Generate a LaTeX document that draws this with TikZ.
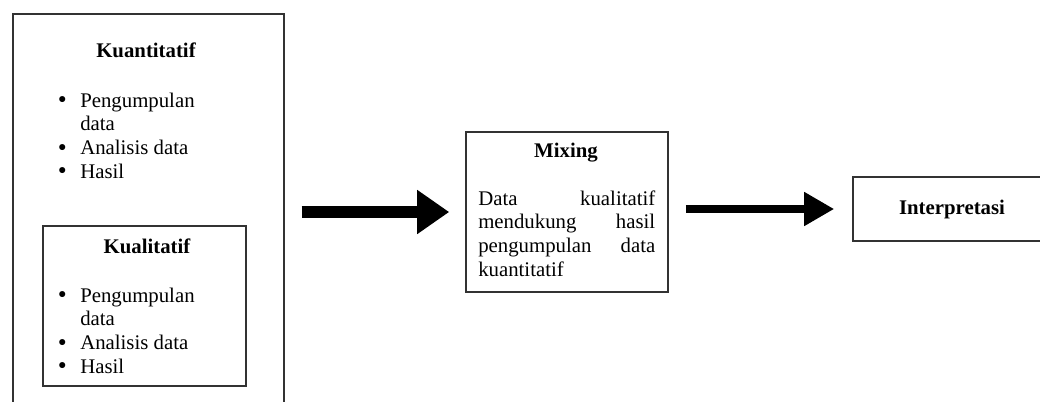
\documentclass[tikz,border=0pt]{standalone}
\usepackage{fontspec}
\setmainfont{Liberation Serif}
\usepackage{tikz}
\usepackage{xcolor}
\usetikzlibrary{positioning, arrows.meta}
\definecolor{garis}{RGB}{50, 50, 50}
\newcommand{\butir}{\makebox[7.5pt]{\raisebox{2.6pt}{\fontsize{10.5pt}{10.5pt}\selectfont ●}}}
\tikzset{
    kotak/.style={draw=garis, line width=1.2pt, inner sep=0pt},
    judul/.style={anchor=base, inner sep=0pt, font=\fontsize{15.6pt}{17.8pt}\selectfont\bfseries},
    isi/.style={anchor=base west, inner sep=0pt, align=left},
    panahbesar/.style={line width=8.7pt, -{Triangle[length=24pt, width=31.5pt]}, shorten <=12.75pt, shorten >=12pt},
    panahkecil/.style={line width=6.2pt, -{Triangle[length=22.5pt, width=24pt]}, shorten <=12.75pt, shorten >=13.5pt}
}

\begin{document}
\begin{tikzpicture}[x=0.75pt, y=0.75pt, every node/.style={font=\fontsize{15.6pt}{17.8pt}\selectfont}]
    \useasboundingbox (0,0) rectangle (1040,-401);
    \clip (0,0) rectangle (1040,-401);
    % kotak kuantitatif (terpotong di bawah)
    \node[kotak, anchor=north west, minimum width=203.25pt, minimum height=309pt] (kuan) at (12,-13) {};
    \node[judul] (jkuan) at (146,-57) {Kuantitatif};
    \node[isi] (lkuan) at (57,-107) {\begin{tabular}[t]{@{}l@{\hspace{9.75pt}}l@{}}
        \butir & Pengumpulan\\
               & data\\
        \butir & Analisis data\\
        \butir & Hasil
    \end{tabular}};
    % kotak kualitatif
    \node[kotak, minimum width=152.25pt, minimum height=120pt] (kual) at (144.5,-306) {};
    \node[judul] (jkual) at (147,-253) {Kualitatif};
    \node[isi] (lkual) at (57,-302) {\begin{tabular}[t]{@{}l@{\hspace{9.75pt}}l@{}}
        \butir & Pengumpulan\\
               & data\\
        \butir & Analisis data\\
        \butir & Hasil
    \end{tabular}};
    % mixing
    \node[kotak, minimum width=151.5pt, minimum height=120pt] (mix) at (567,-212) {};
    \node[judul] (jmix) at (566,-157) {Mixing};
    \node[isi, text width=132.75pt] (tmix) at (478,-205) {Data\hfill kualitatif\\
        mendukung\hfill hasil\\
        pengumpulan\hfill data\\
        kuantitatif};
    % interpretasi
    \node[kotak, minimum width=148.5pt, minimum height=48pt, font=\fontsize{15.6pt}{17.8pt}\selectfont\bfseries] (interp) at (952,-209) {Interpretasi};
    % panah
    \draw[panahbesar] (kuan.east |- mix.west) -- (mix.west);
    \draw[panahkecil] (mix.east |- interp.west) -- (interp.west);
\end{tikzpicture}
\end{document}
